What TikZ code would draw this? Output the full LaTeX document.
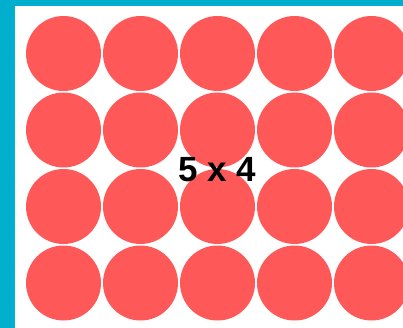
\documentclass[tikz,border=0pt]{standalone}
\usepackage{fontspec}
\setmainfont{Liberation Sans}
\usetikzlibrary{positioning}
\definecolor{frameblue}{RGB}{0,175,206}
\definecolor{dotred}{RGB}{255,88,88}

\begin{document}
\begin{tikzpicture}[x=1pt,y=-1pt,
  dot/.style={circle,fill=dotred,minimum size=75pt,inner sep=0pt}]
\useasboundingbox (0,0) rectangle (403,328);
\fill[frameblue] (0,0) rectangle (403,328);
\fill[white] (15,6) rectangle (403,328);
\foreach \r in {0,...,3}
  \foreach \c in {0,...,4}
    \node[dot] (c-\r-\c) at (63.5+77*\c,53.5+76.5*\r) {};
\node[font=\bfseries\fontsize{35}{35}\selectfont] (lbl) at (217,170) {5 x 4};
\end{tikzpicture}
\end{document}
